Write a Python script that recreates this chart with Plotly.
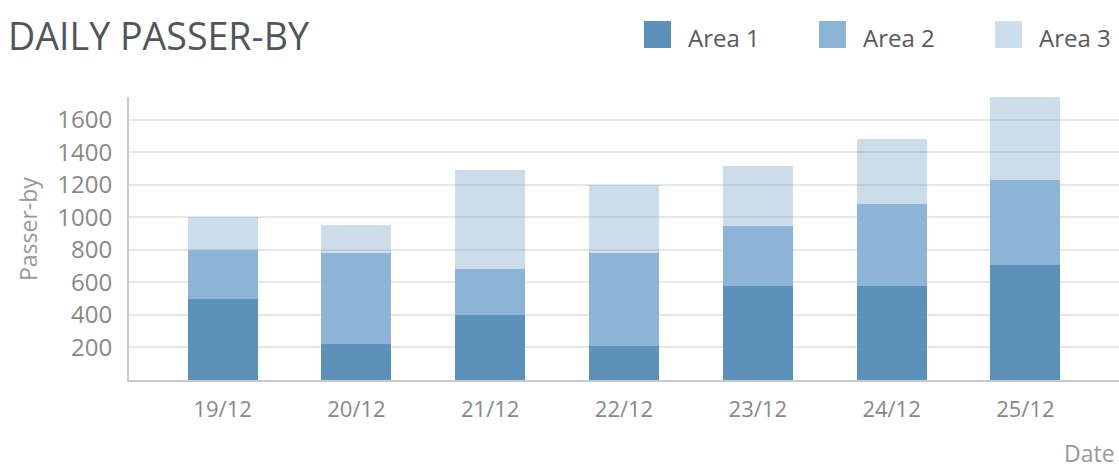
import plotly.graph_objects as go

dates = ["19/12", "20/12", "21/12", "22/12", "23/12", "24/12", "25/12"]
area1 = [500, 220, 400, 210, 580, 580, 710]
area2 = [300, 560, 280, 570, 365, 505, 520]
area3 = [200, 170, 610, 420, 370, 395, 510]
series_names = ["Area 1", "Area 2", "Area 3"]
y_ticks = [200, 400, 600, 800, 1000, 1200, 1400, 1600]

W, H = 1119, 471
# plot area in page pixels: left 129, right 1119, top 97, bottom 380
ML, MR, MT = 129, 0, 97
MB = H - 380
PW, PH = W - ML - MR, H - MT - MB

def px(x):  # page pixel -> paper
    return (x - ML) / PW

def py(y):
    return (H - MB - y) / PH

FONT = "Open Sans"
c1, c2, c3 = "#5c91b9", "#8bb4d6", "rgba(88,144,188,0.31)"
c3_solid = "#cbdeeb"

fig = go.Figure()
for name, vals, col in zip(series_names, [area1, area2, area3], [c1, c2, c3]):
    fig.add_trace(go.Bar(x=dates, y=vals, name=name, marker=dict(color=col, line=dict(width=0)),
                         showlegend=False))

totals = [a + b + c for a, b, c in zip(area1, area2, area3)]

fig.update_layout(
    width=W, height=H,
    barmode="stack", bargap=0.476,
    plot_bgcolor="white", paper_bgcolor="white",
    margin=dict(l=ML, r=MR, t=MT, b=MB, pad=0),
    font=dict(family=FONT, color="#888888", size=22),
    title=dict(text="DAILY PASSER-BY", x=8 / W, xanchor="left", xref="container",
               y=1 - 36.5 / H, yanchor="middle", yref="container",
               font=dict(family=FONT, size=37.6, color="#50565b")),
    xaxis=dict(range=[-0.7, 6.7], showgrid=False, showline=True, linecolor="#c8c8c8", linewidth=2,
               ticks="", tickfont=dict(size=22, color="#888888"), ticklabelstandoff=9, fixedrange=True),
    yaxis=dict(range=[0, max(totals)], tickvals=y_ticks, showgrid=True, gridcolor="#e6e6e6", gridwidth=2,
               zeroline=False, showline=True, linecolor="#c8c8c8", linewidth=2, ticks="",
               tickfont=dict(size=24, color="#888888"), ticklabelstandoff=10),
)

# Custom legend
legend_sq_x = [644, 819, 995]
legend_cols = [c1, c2, c3_solid]
for x0, col, name in zip(legend_sq_x, legend_cols, series_names):
    fig.add_shape(type="rect", xref="paper", yref="paper", x0=px(x0), x1=px(x0 + 27),
                  y0=py(48), y1=py(21), fillcolor=col, line=dict(width=0), layer="above")
    fig.add_annotation(text=name, xref="paper", yref="paper", x=px(x0 + 42), y=py(37),
                       xanchor="left", yanchor="middle", showarrow=False,
                       font=dict(family=FONT, size=24, color="#555a5e"))

fig.add_annotation(text="Passer-by", xref="paper", yref="paper", x=px(28), y=py(229),
                   textangle=-90, showarrow=False, xanchor="center", yanchor="middle",
                   font=dict(family=FONT, size=23, color="#999999"))
fig.add_annotation(text="Date", xref="paper", yref="paper", x=px(1117), y=py(453),
                   showarrow=False, xanchor="right", yanchor="middle",
                   font=dict(family=FONT, size=23, color="#999999"))

fig.write_html(
    "out.html",
    config={"displayModeBar": False},
    post_script="document.body.style.margin='0';document.body.style.overflow='hidden';",
)
